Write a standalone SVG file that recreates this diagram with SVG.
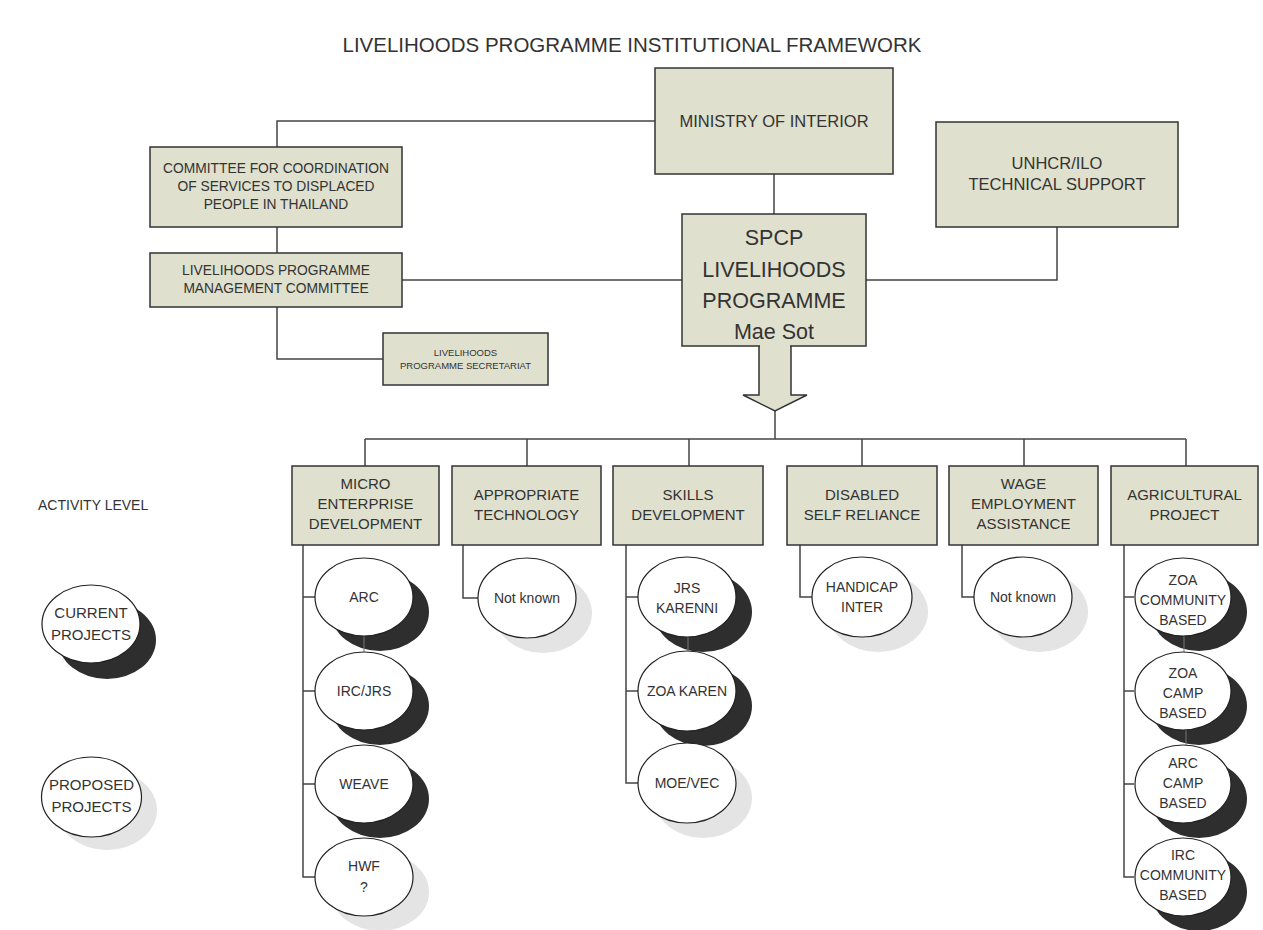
<svg xmlns="http://www.w3.org/2000/svg" width="1263" height="930" viewBox="0 0 1263 930">
<style>
text{font-family:"Liberation Sans",Arial,sans-serif;fill:#333;text-anchor:middle}
.box{fill:#dfe0cd;stroke:#333;stroke-width:1.5}
.ell{fill:#fff;stroke:#222;stroke-width:1.2}
.sd{fill:#2e2e2e}
.sl{fill:#e4e4e4}
.cn{fill:none;stroke:#444;stroke-width:1.5}
.in{stroke:#777;stroke-width:1}
.t14{font-size:14px}
.t15{font-size:15px}
.t13{font-size:13.8px}
.t16{font-size:16.5px}
</style>
<rect width="1263" height="930" fill="#fff"/>
<text x="632" y="52" style="font-size:20.5px">LIVELIHOODS PROGRAMME INSTITUTIONAL FRAMEWORK</text>

<g id="connectors" class="cn">
<polyline points="655,121 277,121 277,147"/>
<line x1="774" y1="174" x2="774" y2="214"/>
<line x1="277" y1="227" x2="277" y2="253"/>
<line x1="402" y1="280" x2="682" y2="280"/>
<polyline points="277,307 277,359 383,359"/>
<polyline points="1057,227 1057,280 866,280"/>
<line x1="775" y1="411" x2="775" y2="439"/>
<line x1="365" y1="439" x2="1186" y2="439"/>
<line x1="365" y1="439" x2="365" y2="466"/>
<line x1="527" y1="439" x2="527" y2="466"/>
<line x1="689" y1="439" x2="689" y2="466"/>
<line x1="862" y1="439" x2="862" y2="466"/>
<line x1="1024" y1="439" x2="1024" y2="466"/>
<line x1="1186" y1="439" x2="1186" y2="466"/>
<polyline points="303,545 303,877 315,877"/>
<line x1="303" y1="597" x2="315" y2="597"/>
<line x1="303" y1="691" x2="315" y2="691"/>
<line x1="303" y1="784" x2="315" y2="784"/>
<polyline points="463,545 463,598 478,598"/>
<polyline points="626,545 626,783 638,783"/>
<line x1="626" y1="597" x2="638" y2="597"/>
<line x1="626" y1="691" x2="638" y2="691"/>
<polyline points="800,545 800,597 813,597"/>
<polyline points="962,545 962,597 974,597"/>
<polyline points="1124,545 1124,877 1134,877"/>
<line x1="1124" y1="597" x2="1134" y2="597"/>
<line x1="1124" y1="691" x2="1134" y2="691"/>
<line x1="1124" y1="784" x2="1134" y2="784"/>
</g>

<g id="ministry"><rect class="box" x="655" y="68" width="238" height="106"/><text class="t16" x="774" y="127">MINISTRY OF INTERIOR</text></g>
<g id="unhcr"><rect class="box" x="936" y="122" width="242" height="105"/><text class="t16" x="1057" y="169">UNHCR/ILO</text><text class="t16" x="1057" y="190">TECHNICAL SUPPORT</text></g>
<g id="committee"><rect class="box" x="150" y="147" width="252" height="80"/><text class="t13" x="276" y="173">COMMITTEE FOR COORDINATION</text><text class="t13" x="276" y="191">OF SERVICES TO DISPLACED</text><text class="t13" x="276" y="209">PEOPLE IN THAILAND</text></g>
<g id="lpmc"><rect class="box" x="150" y="253" width="252" height="54"/><text class="t13" x="276" y="275">LIVELIHOODS PROGRAMME</text><text class="t13" x="276" y="293">MANAGEMENT COMMITTEE</text></g>
<g id="secretariat"><rect class="box" x="383" y="333" width="165" height="52"/><text x="465.5" y="355.5" style="font-size:9.5px">LIVELIHOODS</text><text x="465.5" y="368.5" style="font-size:9.5px">PROGRAMME SECRETARIAT</text></g>
<g id="spcp"><path class="box" d="M759,345 V395 H743 L775,411 L807,395 H791 V345"/><rect class="box" x="682" y="214" width="184" height="132"/><rect x="760" y="344" width="30" height="4" fill="#dfe0cd"/><g style="font-size:21.5px"><text x="774" y="245">SPCP</text><text x="774" y="277">LIVELIHOODS</text><text x="774" y="308">PROGRAMME</text><text x="774" y="339">Mae Sot</text></g></g>

<text x="38" y="510" style="font-size:14px;text-anchor:start">ACTIVITY LEVEL</text>

<g id="act-med"><rect class="box" x="292" y="466" width="147" height="79"/><text class="t15" x="365.5" y="489">MICRO</text><text class="t15" x="365.5" y="509">ENTERPRISE</text><text class="t15" x="365.5" y="529">DEVELOPMENT</text></g>
<g id="act-at"><rect class="box" x="452" y="466" width="149" height="79"/><text class="t15" x="526.5" y="500">APPROPRIATE</text><text class="t15" x="526.5" y="520">TECHNOLOGY</text></g>
<g id="act-sd"><rect class="box" x="613" y="466" width="150" height="79"/><text class="t15" x="688" y="500">SKILLS</text><text class="t15" x="688" y="520">DEVELOPMENT</text></g>
<g id="act-dsr"><rect class="box" x="787" y="466" width="150" height="79"/><text class="t15" x="862" y="500">DISABLED</text><text class="t15" x="862" y="520">SELF RELIANCE</text></g>
<g id="act-wea"><rect class="box" x="949" y="466" width="149" height="79"/><text class="t15" x="1023.5" y="489">WAGE</text><text class="t15" x="1023.5" y="509">EMPLOYMENT</text><text class="t15" x="1023.5" y="529">ASSISTANCE</text></g>
<g id="act-agr"><rect class="box" x="1111" y="466" width="147" height="79"/><text class="t15" x="1184.5" y="500">AGRICULTURAL</text><text class="t15" x="1184.5" y="520">PROJECT</text></g>

<g id="shadows">
<ellipse class="sd" cx="380" cy="612" rx="49" ry="39"/>
<ellipse class="sd" cx="380" cy="706" rx="49" ry="39"/>
<ellipse class="sd" cx="380" cy="799" rx="49" ry="39"/>
<ellipse class="sl" cx="380" cy="892" rx="49" ry="39"/>
<ellipse class="sl" cx="543" cy="613" rx="49" ry="40"/>
<ellipse class="sd" cx="703" cy="612" rx="49" ry="40"/>
<ellipse class="sd" cx="703" cy="706" rx="49" ry="40"/>
<ellipse class="sl" cx="703" cy="798" rx="49" ry="40"/>
<ellipse class="sl" cx="878" cy="612" rx="50" ry="40"/>
<ellipse class="sl" cx="1039" cy="612" rx="49" ry="40"/>
<ellipse class="sd" cx="1199" cy="612" rx="48" ry="39"/>
<ellipse class="sd" cx="1199" cy="706" rx="48" ry="39"/>
<ellipse class="sd" cx="1199" cy="799" rx="48" ry="39"/>
<ellipse class="sd" cx="1199" cy="892" rx="48" ry="39"/>
<ellipse class="sd" cx="107" cy="640" rx="49" ry="39"/>
<ellipse class="sl" cx="107" cy="810" rx="50" ry="40"/>
<line class="in" x1="364" y1="636" x2="364" y2="652"/>
<line class="in" x1="688" y1="637" x2="688" y2="651"/>
<line class="in" x1="1184" y1="636" x2="1184" y2="652"/>
<line class="in" x1="1186" y1="730" x2="1186" y2="745"/>
</g>

<g id="p-arc"><ellipse class="ell" cx="364" cy="597" rx="49" ry="39"/><text class="t14" x="364" y="602">ARC</text></g>
<g id="p-ircjrs"><ellipse class="ell" cx="364" cy="691" rx="49" ry="39"/><text class="t14" x="364" y="696">IRC/JRS</text></g>
<g id="p-weave"><ellipse class="ell" cx="364" cy="784" rx="49" ry="39"/><text class="t14" x="364" y="789">WEAVE</text></g>
<g id="p-hwf"><ellipse class="ell" cx="364" cy="877" rx="49" ry="39"/><text class="t14" x="364" y="871">HWF</text><text class="t14" x="364" y="892">?</text></g>
<g id="p-at"><ellipse class="ell" cx="527" cy="598" rx="49" ry="40"/><text class="t14" x="527" y="603">Not known</text></g>
<g id="p-jrsk"><ellipse class="ell" cx="687" cy="597" rx="49" ry="40"/><text class="t14" x="687" y="593">JRS</text><text class="t14" x="687" y="613">KARENNI</text></g>
<g id="p-zoak"><ellipse class="ell" cx="687" cy="691" rx="49" ry="40"/><text class="t14" x="687" y="696">ZOA KAREN</text></g>
<g id="p-moe"><ellipse class="ell" cx="687" cy="783" rx="49" ry="40"/><text class="t14" x="687" y="788">MOE/VEC</text></g>
<g id="p-hi"><ellipse class="ell" cx="862" cy="597" rx="50" ry="40"/><text class="t14" x="862" y="592">HANDICAP</text><text class="t14" x="862" y="612">INTER</text></g>
<g id="p-wage"><ellipse class="ell" cx="1023" cy="597" rx="49" ry="40"/><text class="t14" x="1023" y="602">Not known</text></g>
<g id="p-zoac"><ellipse class="ell" cx="1183" cy="597" rx="48" ry="39"/><text class="t14" x="1183" y="585">ZOA</text><text class="t14" x="1183" y="605">COMMUNITY</text><text class="t14" x="1183" y="625">BASED</text></g>
<g id="p-zoacamp"><ellipse class="ell" cx="1183" cy="691" rx="48" ry="39"/><text class="t14" x="1183" y="678">ZOA</text><text class="t14" x="1183" y="698">CAMP</text><text class="t14" x="1183" y="718">BASED</text></g>
<g id="p-arccamp"><ellipse class="ell" cx="1183" cy="784" rx="48" ry="39"/><text class="t14" x="1183" y="768">ARC</text><text class="t14" x="1183" y="788">CAMP</text><text class="t14" x="1183" y="808">BASED</text></g>
<g id="p-ircc"><ellipse class="ell" cx="1183" cy="877" rx="48" ry="39"/><text class="t14" x="1183" y="860">IRC</text><text class="t14" x="1183" y="880">COMMUNITY</text><text class="t14" x="1183" y="900">BASED</text></g>

<g id="legend-current"><ellipse class="ell" cx="91" cy="624" rx="49" ry="39"/><text class="t15" x="91" y="618">CURRENT</text><text class="t15" x="91" y="640">PROJECTS</text></g>
<g id="legend-proposed"><ellipse class="ell" cx="91.5" cy="797" rx="50" ry="40"/><text class="t15" x="91.5" y="790">PROPOSED</text><text class="t15" x="91.5" y="812">PROJECTS</text></g>
</svg>
